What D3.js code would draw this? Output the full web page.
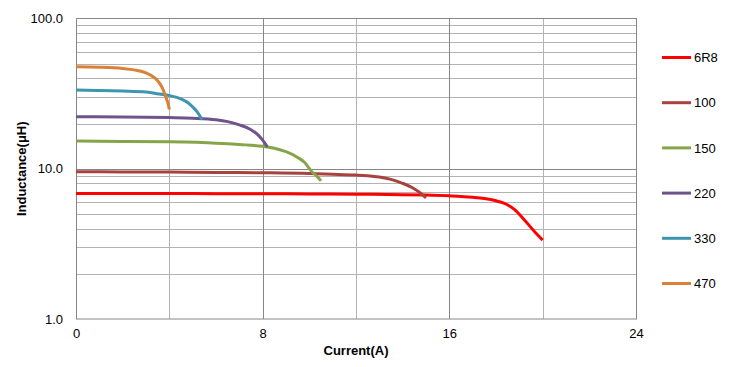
<!DOCTYPE html>
<html><head><meta charset="utf-8">
<script src="https://cdn.jsdelivr.net/npm/d3@7"></script>
<style>body{margin:0;background:#fff}svg{display:block}text{font-family:"Liberation Sans",Arial,sans-serif}</style>
</head><body><svg id="c" width="730" height="367"></svg>
<script>
const seriesNames = ["6R8","100","150","220","330","470"];
const seriesColors = ["#FF0000","#A8423F","#86A44A","#6E548D","#3D96AE","#DA8137"];
const x6R8 = [0,2,4,6,8,10,12,14,15,16,17,17.5,18,18.4,18.8,19.2,19.6,20];
const y6R8 = [6.85,6.85,6.84,6.83,6.82,6.8,6.77,6.72,6.68,6.6,6.46,6.34,6.12,5.85,5.35,4.6,3.9,3.35];
const x100 = [0,2,4,6,8,10,11,12,12.5,13,13.5,14,14.4,14.7,15];
const y100 = [9.55,9.52,9.5,9.45,9.4,9.3,9.2,9.08,8.98,8.8,8.5,8.0,7.5,7.0,6.4];
const x150 = [0,2,4,6,7,8,8.5,9,9.5,9.8,10.1,10.3,10.5];
const y150 = [15.3,15.2,15.1,14.8,14.5,14.1,13.7,13.0,11.9,11.0,9.6,9.0,8.3];
const x220 = [0,2,4,5,6,6.5,7,7.5,7.8,8.0,8.2];
const y220 = [22.2,22.1,21.9,21.7,21.2,20.6,19.6,18.2,16.8,15.5,14.0];
const x330 = [0,1,2,3,3.6,4.0,4.5,4.8,5.0,5.2,5.4];
const y330 = [33.4,33.2,32.9,32.4,31.4,30.7,29.2,27.5,25.8,23.8,21.3];
const x470 = [0,1,2,2.5,3,3.3,3.5,3.7,3.85,3.95,4.0];
const y470 = [47.7,47.4,46.5,45.5,43.5,41.0,38.5,34.5,30,27,24.8];
const xTicks = [0,8,16,24];
const xMinor = [4,12,20];
const yTicks = [1,10,100];
const yTickLabels = ["1.0","10.0","100.0"];
const xTitle = "Current(A)";
const yTitle = "Inductance(μH)";

const seriesX = [x6R8,x100,x150,x220,x330,x470];
const seriesY = [y6R8,y100,y150,y220,y330,y470];

const L=76,R=636,T=18.5,B=319;
const FS=13;
const svg=d3.select("#c");
const x=d3.scaleLinear().domain([0,24]).range([L,R]);
const y=d3.scaleLog().domain([1,100]).range([B,T]);

const minorY=[];
[1,10].forEach(d=>{for(let k=2;k<=9;k++)minorY.push(d*k);});
svg.append("g").selectAll("line").data(minorY).join("line")
 .attr("x1",L).attr("x2",R).attr("y1",d=>Math.round(y(d))+0.5).attr("y2",d=>Math.round(y(d))+0.5)
 .attr("stroke","#b3b3b3").attr("stroke-width",1);
svg.append("g").selectAll("line").data(xMinor).join("line")
 .attr("y1",T).attr("y2",B).attr("x1",d=>Math.round(x(d))+0.5).attr("x2",d=>Math.round(x(d))+0.5)
 .attr("stroke","#b3b3b3").attr("stroke-width",1);
svg.append("g").selectAll("line").data([10]).join("line")
 .attr("x1",L).attr("x2",R).attr("y1",d=>Math.round(y(d))+0.5).attr("y2",d=>Math.round(y(d))+0.5)
 .attr("stroke","#868686").attr("stroke-width",1);
svg.append("g").selectAll("line").data([8,16]).join("line")
 .attr("y1",T).attr("y2",B).attr("x1",d=>Math.round(x(d))+0.5).attr("x2",d=>Math.round(x(d))+0.5)
 .attr("stroke","#868686").attr("stroke-width",1);
svg.append("rect").attr("x",L+0.5).attr("y",T).attr("width",R-L).attr("height",B-T)
 .attr("fill","none").attr("stroke","#868686").attr("stroke-width",1);

const xAxis=d3.axisBottom(x).tickValues(xTicks).tickSize(0).tickPadding(10).tickFormat(d3.format("d"));
const gx=svg.append("g").attr("transform",`translate(0,${B})`).call(xAxis);
gx.select(".domain").remove();
gx.selectAll("text").attr("font-size",FS).attr("fill","#000").attr("font-family","Liberation Sans, Arial, sans-serif");
const yAxis=d3.axisLeft(y).tickValues(yTicks).tickSize(0).tickPadding(13).tickFormat((d,i)=>yTickLabels[i]);
const gy=svg.append("g").attr("transform",`translate(${L},0)`).call(yAxis);
gy.select(".domain").remove();
gy.selectAll("text").attr("font-size",FS).attr("fill","#000").attr("font-family","Liberation Sans, Arial, sans-serif");

svg.append("text").attr("x",356).attr("y",355).attr("text-anchor","middle")
 .attr("font-size",FS).attr("font-weight","bold").text(xTitle);
svg.append("text").attr("transform",`translate(26,${(T+B)/2}) rotate(-90)`).attr("text-anchor","middle")
 .attr("font-size",FS).attr("font-weight","bold").text(yTitle);

const line=d3.line().x(d=>x(d[0])).y(d=>y(d[1])).curve(d3.curveMonotoneX);
const plotG=svg.append("g");
seriesNames.forEach((n,i)=>{
  const pts=seriesX[i].map((v,j)=>[v,seriesY[i][j]]);
  plotG.append("path").attr("d",line(pts)).attr("fill","none")
   .attr("stroke",seriesColors[i]).attr("stroke-width",3).attr("stroke-linejoin","round");
});

const leg=svg.append("g");
seriesNames.forEach((n,i)=>{
  const ly=57.5+i*45.2;
  leg.append("line").attr("x1",662).attr("x2",691).attr("y1",ly).attr("y2",ly)
   .attr("stroke",seriesColors[i]).attr("stroke-width",3);
  leg.append("text").attr("x",694).attr("y",ly+4.7).attr("font-size",FS).attr("fill","#000").text(n);
});
</script></body></html>
